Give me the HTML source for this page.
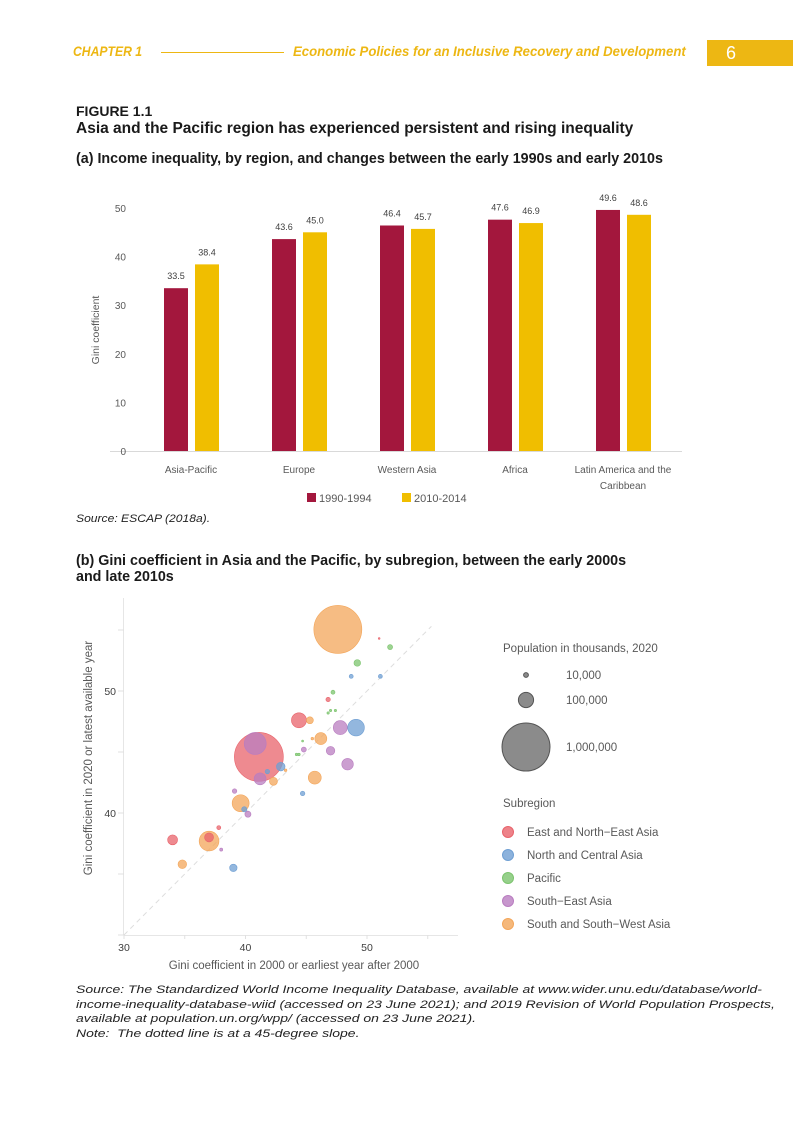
<!DOCTYPE html>
<html><head><meta charset="utf-8">
<style>
body{margin:0;width:793px;height:1122px;background:#fff;font-family:"Liberation Sans",sans-serif;position:relative;overflow:hidden}
.abs{position:absolute}
.hdr{color:#EDB713;font-style:italic;font-size:14px;font-weight:bold;transform-origin:left top;white-space:nowrap}
.cap{color:#1a1a1a;font-weight:bold;white-space:nowrap}
.src{font-size:11px;font-style:italic;color:#222;line-height:14.5px;white-space:nowrap;transform-origin:left top}
</style></head><body>
<div class="abs hdr" style="left:73px;top:43px;transform:scaleX(0.87)">CHAPTER 1</div>
<div class="abs" style="left:161px;top:52px;width:123px;height:1px;background:#EDB713"></div>
<div class="abs hdr" style="left:293px;top:43px;transform:scaleX(0.94)">Economic Policies for an Inclusive Recovery and Development</div>
<div class="abs" style="left:707px;top:40px;width:86px;height:26px;background:#EDB713;color:#fff;font-size:18px;line-height:26px;padding-left:19px;box-sizing:border-box">6</div>

<div class="abs cap" style="left:76px;top:103px;font-size:14px">FIGURE 1.1</div>
<div class="abs cap" style="left:76px;top:120px;font-size:15.5px">Asia and the Pacific region has experienced persistent and rising inequality</div>
<div class="abs cap" style="left:76px;top:151px;font-size:14.3px">(a) Income inequality, by region, and changes between the early 1990s and early 2010s</div>

<svg class="abs" style="left:0;top:0" width="793" height="1122">
<g id="bars"></g>
<g id="scat"></g>
</svg>

<div class="abs src" style="left:76px;top:512px;transform:scaleX(1.1)">Source: ESCAP (2018a).</div>
<div class="abs cap" style="left:76px;top:553px;font-size:14.3px;line-height:16px">(b) Gini coefficient in Asia and the Pacific, by subregion, between the early 2000s<br>and late 2010s</div>
<div class="abs src" style="left:76px;top:983px;transform:scaleX(1.27)">Source: The Standardized World Income Inequality Database, available at www.wider.unu.edu/database/world-<br>income-inequality-database-wiid (accessed on 23 June 2021); and 2019 Revision of World Population Prospects,<br>available at population.un.org/wpp/ (accessed on 23 June 2021).<br>Note:&nbsp; The dotted line is at a 45-degree slope.</div>

<script>
const categories=["Asia-Pacific","Europe","Western Asia","Africa","Latin America and the|Caribbean"];
const series1990=[33.5,43.6,46.4,47.6,49.6];
const series2010=[38.4,45.0,45.7,46.9,48.6];
const yTicks=[0,10,20,30,40,50];

const subregions=["East and North-East Asia","North and Central Asia","Pacific","South-East Asia","South and South-West Asia"];
const subColors=["#E8636B","#6F9FD3","#7CC46E","#B97DC0","#F3A65A"];
const gini2000=[47.6,51.0,51.9,49.2,48.7,51.1,47.2,46.8,47.0,47.4,46.8,44.4,45.3,47.8,49.1,46.2,45.5,44.7,44.8,47.0,44.2,44.4,41.1,40.8,48.4,42.9,41.8,43.3,41.2,42.3,45.7,39.1,44.7,39.6,39.9,40.2,37.8,34.0,37.0,37.0,38.0,34.8,39.0];
const giniLatest=[55.05,54.3,53.6,52.3,51.2,51.2,49.9,49.3,48.4,48.4,48.2,47.6,47.6,47.0,47.0,46.1,46.1,45.9,45.2,45.1,44.8,44.8,44.6,45.7,44.0,43.8,43.4,43.5,42.8,42.6,42.9,41.8,41.6,40.8,40.3,39.9,38.8,37.8,37.7,38.0,37.0,35.8,35.5];
const popThousands=[1000000,1500,11000,19000,7000,7000,7000,8400,2500,2500,2500,98000,21000,85000,120000,62000,3000,1700,11000,32000,2800,2800,1040000,210000,58000,32000,9000,3000,62000,28000,73000,9000,9000,125000,12000,16000,7000,43000,170000,35000,4000,32000,24000];
const regionIdx=[4,0,2,2,1,1,2,0,2,2,2,0,4,3,1,4,4,2,3,3,2,2,0,3,3,1,1,4,3,4,4,3,1,4,1,3,0,0,4,0,3,4,1];
const sizeLegend=[10000,100000,1000000];

const NS="http://www.w3.org/2000/svg";
function mk(p,tag,at,txt){const e=document.createElementNS(NS,tag);for(const k in at)e.setAttribute(k,at[k]);if(txt!==undefined)e.textContent=txt;p.appendChild(e);return e;}

const B=document.getElementById('bars');
const by=v=>451-v*4.86;
const cx=i=>191+i*108;
mk(B,'line',{x1:110,y1:451.5,x2:682,y2:451.5,stroke:'#d9d9d9'});
yTicks.forEach(t=>{const e=mk(B,'text',{x:126,y:by(t)+4,'text-anchor':'end','font-size':10,fill:'#595959'},t);
});
const yt=mk(B,'text',{transform:'translate(99,330) rotate(-90)','text-anchor':'middle','font-size':10.5,fill:'#595959'},'Gini coefficient');

categories.forEach((c,i)=>{
 [[series1990,'#A3173D',-27],[series2010,'#F0BE00',4]].forEach(([s,col,off])=>{
  const r=mk(B,'rect',{x:cx(i)+off,y:by(s[i]),width:24,height:451-by(s[i]),fill:col});
  
  const t=mk(B,'text',{x:cx(i)+off+12,y:by(s[i])-9,'text-anchor':'middle','font-size':9,fill:'#404040'},s[i].toFixed(1));
  
 });
 c.split('|').forEach((ln,k)=>{const t=mk(B,'text',{x:cx(i),y:473+k*16,'text-anchor':'middle','font-size':10,fill:'#595959'},ln);
 });
});
[['1990-1994','#A3173D',307],['2010-2014','#F0BE00',402]].forEach(([l,c,x])=>{
 const g=mk(B,'g',{});
 mk(g,'rect',{x:x,y:493,width:9,height:9,fill:c});mk(g,'text',{x:x+12,y:502,'font-size':11,fill:'#595959'},l);
});

const S=document.getElementById('scat');
const sx=v=>124+(v-30)*12.15, sy=v=>813-(v-40)*12.2;
mk(S,'line',{x1:123.5,y1:598,x2:123.5,y2:935,stroke:'#e6e6e6'});
mk(S,'line',{x1:124,y1:935.5,x2:458,y2:935.5,stroke:'#e6e6e6'});
[30,35,40,45,50,55].forEach(v=>{mk(S,'line',{x1:sx(v),y1:935,x2:sx(v),y2:939,stroke:'#e0e0e0'});mk(S,'line',{x1:118,y1:sy(v),x2:124,y2:sy(v),stroke:'#e0e0e0'});});
[30,40,50].forEach(v=>{const t=mk(S,'text',{x:sx(v),y:951,'text-anchor':'middle','font-size':10.5,fill:'#404040'},v);});
[40,50].forEach(v=>{const t=mk(S,'text',{x:116,y:sy(v)+4,'text-anchor':'end','font-size':10.5,fill:'#404040'},v);});
mk(S,'line',{x1:sx(30),y1:sy(30),x2:sx(55.3),y2:sy(55.3),stroke:'#ddd','stroke-dasharray':'5,4'});
const xt=mk(S,'text',{x:294,y:969,'text-anchor':'middle','font-size':11.5,fill:'#595959'},'Gini coefficient in 2000 or earliest year after 2000');

const yt2=mk(S,'text',{transform:'translate(92,758) rotate(-90)','text-anchor':'middle','font-size':11.5,fill:'#595959'},'Gini coefficient in 2020 or latest available year');

const rad=p=>24*Math.sqrt(p/1000000);
gini2000.forEach((g,i)=>{
 const c=mk(S,'circle',{cx:sx(g),cy:sy(giniLatest[i]),r:Math.max(0.8,rad(popThousands[i])),fill:subColors[regionIdx[i]],'fill-opacity':0.75,stroke:subColors[regionIdx[i]],'stroke-width':0.6});
 
});
mk(S,'text',{x:503,y:652,'font-size':11.5,fill:'#595959'},'Population in thousands, 2020');
const sly=[675,700,747];
sizeLegend.forEach((p,i)=>{const g=mk(S,'g',{});
 mk(g,'circle',{cx:526,cy:sly[i],r:rad(p),fill:'#777','fill-opacity':0.85,stroke:'#555'});
 mk(g,'text',{x:566,y:sly[i]+4,'font-size':11.5,fill:'#595959'},p.toLocaleString('en-US'));});
mk(S,'text',{x:503,y:807,'font-size':11.5,fill:'#595959'},'Subregion');
subregions.forEach((s,i)=>{const g=mk(S,'g',{});
 mk(g,'circle',{cx:508,cy:832+i*23,r:5.5,fill:subColors[i],'fill-opacity':0.8,stroke:subColors[i]});
 mk(g,'text',{x:527,y:836+i*23,'font-size':11.5,fill:'#595959'},s.replace(/-/g,'\u2212'));});
</script>
</body></html>
